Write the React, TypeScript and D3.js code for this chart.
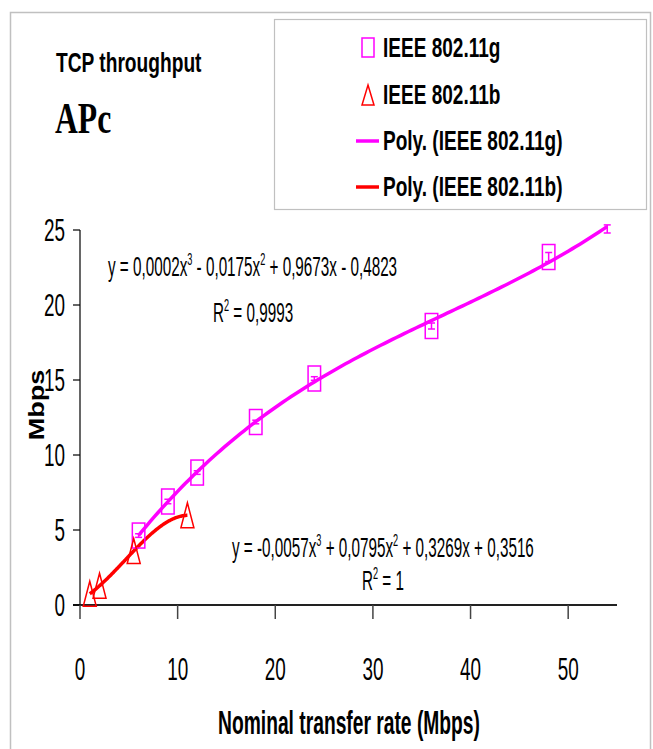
import React from "react";
import * as d3 from "d3";

// IEEE 802.11g measured throughput
const gRate = [6, 9, 12, 18, 24, 36, 48, 54];
const gMbps = [4.63, 6.9, 8.83, 12.2, 15.1, 18.6, 23.2, 25.07];
const gErr = [0.12, 0.15, 0.12, 0.12, 0.12, 0.2, 0.3, 0.27];
// IEEE 802.11b measured throughput
const bRate = [1, 2, 5.5, 11];
const bMbps = [0.75, 1.28, 3.6, 5.98];

const xTicks = [0, 10, 20, 30, 40, 50];
const yTicks = [0, 5, 10, 15, 20, 25];
const legendLabels = ["IEEE 802.11g", "IEEE 802.11b", "Poly. (IEEE 802.11g)", "Poly. (IEEE 802.11b)"];

const MAGENTA = "#ff00ff";
const RED = "#ff0000";
const SANS = "'Liberation Sans', Arial, sans-serif";
const SERIF = "'Liberation Serif', 'Times New Roman', serif";

// least squares polynomial fit (what Excel does for a "Poly." trendline)
function polyFit(xs: number[], ys: number[], deg: number): number[] {
  const n = deg + 1;
  const A = Array.from({ length: n }, () => new Array(n + 1).fill(0));
  xs.forEach((x, i) => {
    for (let r = 0; r < n; r++) {
      for (let c = 0; c < n; c++) A[r][c] += Math.pow(x, r + c);
      A[r][n] += ys[i] * Math.pow(x, r);
    }
  });
  for (let k = 0; k < n; k++) {
    let p = k;
    for (let r = k + 1; r < n; r++) if (Math.abs(A[r][k]) > Math.abs(A[p][k])) p = r;
    [A[k], A[p]] = [A[p], A[k]];
    for (let r = k + 1; r < n; r++) {
      const f = A[r][k] / A[k][k];
      for (let c = k; c <= n; c++) A[r][c] -= f * A[k][c];
    }
  }
  const coef = new Array(n).fill(0);
  for (let k = n - 1; k >= 0; k--) {
    let s = A[k][n];
    for (let c = k + 1; c < n; c++) s -= A[k][c] * coef[c];
    coef[k] = s / A[k][k];
  }
  return coef;
}

const evalPoly = (coef: number[], x: number) => coef.reduce((s, c, i) => s + c * Math.pow(x, i), 0);

const Txt = (props: {
  x: number; y: number; size: number; sx?: number; anchor?: string; bold?: boolean;
  family?: string; children: React.ReactNode;
}) => (
  <text
    transform={`translate(${props.x},${props.y}) scale(${props.sx ?? 1},1)`}
    fontSize={props.size}
    fontFamily={props.family ?? SANS}
    fontWeight={props.bold ? "bold" : "normal"}
    textAnchor={props.anchor ?? "start"}
    fill="#000"
  >
    {props.children}
  </text>
);

export default function App() {
  const W = 653, H = 749;
  const x = d3.scaleLinear().domain([0, 55]).range([80, 617]);
  const y = d3.scaleLinear().domain([0, 25]).range([605, 230]);

  const gFit = polyFit(gRate, gMbps, 3);
  const bFit = polyFit(bRate, bMbps, 3);
  const line = d3.line<number[]>().x((d) => x(d[0])).y((d) => y(d[1]));
  const sample = (coef: number[], lo: number, hi: number) =>
    d3.range(lo, hi + 0.001, (hi - lo) / 120).map((v) => [v, evalPoly(coef, v)]);

  const sqW = 12.5, sqH = 25;
  const triW = 13, triH = 25;
  const tri = (cx: number, cy: number, w: number, h: number) =>
    `M${cx},${cy - h / 2}L${cx + w / 2},${cy + h / 2}L${cx - w / 2},${cy + h / 2}Z`;

  const legendRows = [57, 104, 150, 196];
  const sup = 28 * 0.6;

  return (
    <svg width={W} height={H} style={{ position: "absolute", left: 0, top: 0, background: "#fff" }}>
      <rect x={10.5} y={12.5} width={640} height={745} fill="#fff" stroke="#c0c0c0" strokeWidth={1.5} />

      {/* titles */}
      <Txt x={56} y={72} size={28} sx={0.685} bold>TCP throughput</Txt>
      <Txt x={55} y={133} size={44} sx={0.72} bold family={SERIF}>APc</Txt>

      {/* legend */}
      <rect x={274.5} y={19.5} width={372} height={190} fill="#fff" stroke="#c0c0c0" strokeWidth={1.2} />
      <rect x={362} y={38} width={12} height={19} fill="none" stroke={MAGENTA} strokeWidth={1.5} />
      <path d={tri(368, 95, 12, 20)} fill="none" stroke={RED} strokeWidth={1.5} />
      <line x1={356} x2={379} y1={141} y2={141} stroke={MAGENTA} strokeWidth={3.5} />
      <line x1={356} x2={379} y1={187} y2={187} stroke={RED} strokeWidth={3.5} />
      {legendLabels.map((l, i) => (
        <Txt key={l} x={383} y={legendRows[i]} size={28} sx={0.68} bold>{l}</Txt>
      ))}

      {/* axes */}
      <line x1={x(0)} x2={x(0)} y1={y(25)} y2={y(0)} stroke="#000" strokeWidth={1.2} />
      <line x1={73} x2={x(55)} y1={y(0)} y2={y(0)} stroke="#222" strokeWidth={2} />
      {yTicks.map((t) => (
        <g key={"y" + t}>
          <line x1={73} x2={x(0)} y1={y(t)} y2={y(t)} stroke="#000" strokeWidth={1.2} />
          <Txt x={65} y={y(t) + 11} size={31} sx={0.61} anchor="end">{t}</Txt>
        </g>
      ))}
      {xTicks.map((t) => (
        <g key={"x" + t}>
          <line x1={x(t)} x2={x(t)} y1={y(0)} y2={y(0) + 14} stroke="#444" strokeWidth={1.5} />
          <Txt x={x(t)} y={680} size={31} sx={0.61} anchor="middle">{t}</Txt>
        </g>
      ))}
      <Txt x={349} y={734} size={34} sx={0.566} anchor="middle" bold>Nominal transfer rate (Mbps)</Txt>
      <text
        transform="translate(44,405) rotate(-90) scale(1,0.85)"
        fontSize={27}
        fontFamily={SANS}
        fontWeight="bold"
        textAnchor="middle"
      >
        Mbps
      </text>

      {/* trendlines */}
      <path d={line(sample(bFit, 1, 11)) ?? ""} fill="none" stroke={RED} strokeWidth={3.5} />
      <path d={line(sample(gFit, 6, 54)) ?? ""} fill="none" stroke={MAGENTA} strokeWidth={3.5} />

      {/* error bars for 802.11g */}
      {gRate.map((r, i) => (
        <g key={"e" + r} stroke={MAGENTA} strokeWidth={1.5}>
          <line x1={x(r)} x2={x(r)} y1={y(gMbps[i] - gErr[i])} y2={y(gMbps[i] + gErr[i])} />
          <line x1={x(r) - 3.5} x2={x(r) + 3.5} y1={y(gMbps[i] - gErr[i])} y2={y(gMbps[i] - gErr[i])} />
          <line x1={x(r) - 3.5} x2={x(r) + 3.5} y1={y(gMbps[i] + gErr[i])} y2={y(gMbps[i] + gErr[i])} />
        </g>
      ))}

      {/* markers (points above the axis maximum are not drawn) */}
      {gRate.map((r, i) =>
        gMbps[i] <= 25 ? (
          <rect key={"g" + r} x={x(r) - sqW / 2} y={y(gMbps[i]) - sqH / 2} width={sqW} height={sqH}
            fill="none" stroke={MAGENTA} strokeWidth={1.5} />
        ) : null
      )}
      {bRate.map((r, i) => (
        <path key={"b" + r} d={tri(x(r), y(bMbps[i]), triW, triH)} fill="none" stroke={RED} strokeWidth={1.5} />
      ))}

      {/* trendline equations */}
      <Txt x={108} y={276} size={28} sx={0.545}>
        y = 0,0002x<tspan dy={-11} fontSize={sup}>3</tspan>
        <tspan dy={11}> - 0,0175x</tspan><tspan dy={-11} fontSize={sup}>2</tspan>
        <tspan dy={11}> + 0,9673x - 0,4823</tspan>
      </Txt>
      <Txt x={213} y={322} size={28} sx={0.545}>
        R<tspan dy={-11} fontSize={sup}>2</tspan><tspan dy={11}> = 0,9993</tspan>
      </Txt>
      <Txt x={232} y={557} size={28} sx={0.545}>
        y = -0,0057x<tspan dy={-11} fontSize={sup}>3</tspan>
        <tspan dy={11}> + 0,0795x</tspan><tspan dy={-11} fontSize={sup}>2</tspan>
        <tspan dy={11}> + 0,3269x + 0,3516</tspan>
      </Txt>
      <Txt x={362} y={590} size={28} sx={0.545}>
        R<tspan dy={-11} fontSize={sup}>2</tspan><tspan dy={11}> = 1</tspan>
      </Txt>
    </svg>
  );
}
